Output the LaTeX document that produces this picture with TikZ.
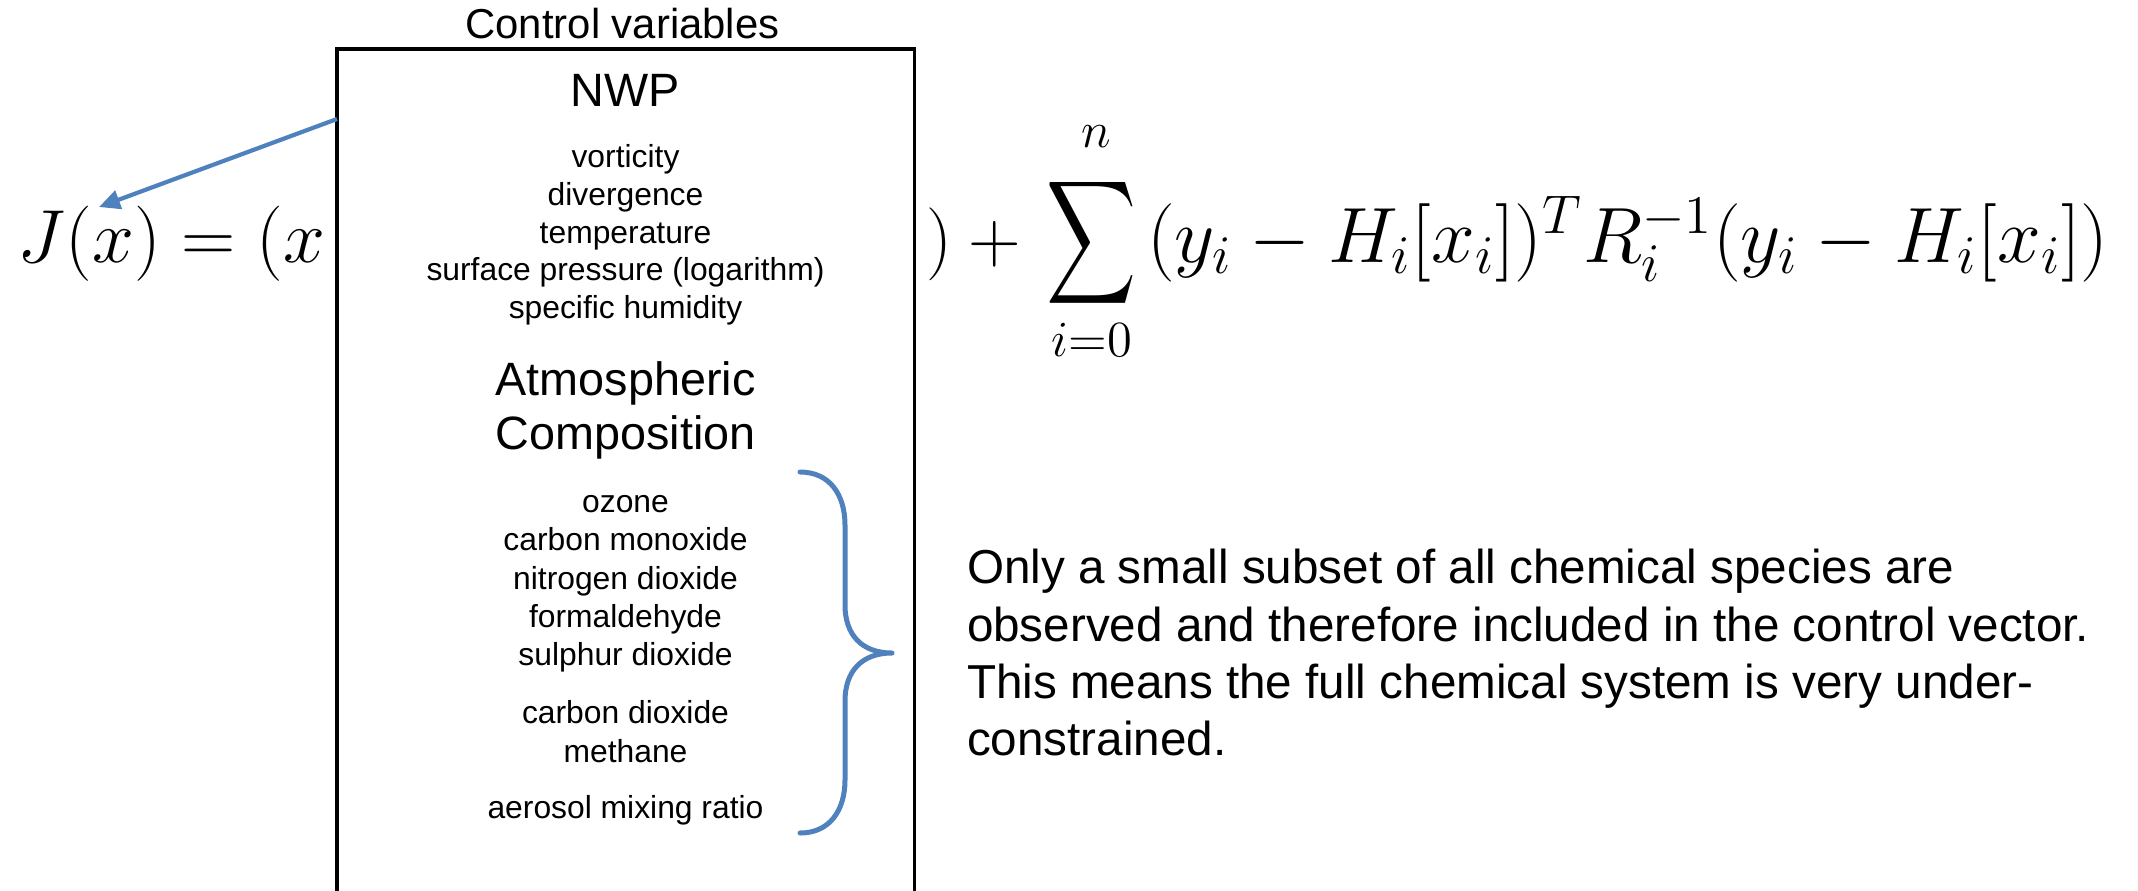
\documentclass[tikz,border=0pt]{standalone}
\usepackage[no-math]{fontspec}
\setmainfont{Liberation Sans}
\usetikzlibrary{arrows.meta}
\definecolor{offblue}{HTML}{4F81BD}
\tikzset{
  lbl/.style={inner sep=0pt, outer sep=0pt, anchor=base},
  titletxt/.style={lbl, font=\fontsize{11.9}{14}\selectfont},
  headtxt/.style={lbl, font=\fontsize{13.3}{16}\selectfont},
  itemtxt/.style={lbl, font=\fontsize{9.05}{11}\selectfont},
  paratxt/.style={lbl, anchor=base west, font=\fontsize{13.54}{16}\selectfont},
  eqtxt/.style={lbl, font=\fontsize{20.5}{24}\selectfont},
  limtxt/.style={lbl, font=\fontsize{14}{16}\selectfont},
  cvbox/.style={draw=black, line width=0.035cm, inner sep=0pt, outer sep=0pt},
  conn/.style={draw=offblue, line width=0.042cm, -{Triangle[length=0.21cm, width=0.19cm]}},
  bracepath/.style={draw=offblue, line width=0.05cm, line cap=round, line join=round},
}
\begin{document}
\begin{tikzpicture}[x=0.01cm, y=-0.01cm]
\useasboundingbox (0,0) rectangle (2138,890);

% control variables box (open at the bottom, runs past the page)
\node[cvbox, anchor=north west, minimum width=5.77cm, minimum height=9.5cm] (cv) at (337,49) {};
\node[titletxt] (title) at (622.5,38) {Control variables};

% NWP
\node[headtxt] (nwp) at (625.5,106) {NWP};
\foreach \t [count=\k from 0] in {vorticity, divergence, temperature, surface pressure (logarithm), specific humidity}
  \node[itemtxt] (nwp\k) at (625.5,167.5+37.75*\k) {\t};

% Atmospheric composition
\node[headtxt] (atm1) at (625.5,395) {Atmospheric};
\node[headtxt] (atm2) at (625.5,449) {Composition};
\foreach \t/\yy [count=\k] in {ozone/512, carbon monoxide/550.5, nitrogen dioxide/589, formaldehyde/627, sulphur dioxide/665.5, carbon dioxide/723, methane/762, aerosol mixing ratio/818.5}
  \node[itemtxt] (chem\k) at (625.5,\yy) {\t};

% brace
\draw[bracepath] (800,472) .. controls (830,472) and (845,495) .. (845,525)
  -- (845,605) .. controls (845,635) and (862,653) .. (892,653)
  .. controls (862,653) and (845,671) .. (845,701)
  -- (845,780) .. controls (845,810) and (830,833) .. (800,833);

% paragraph
\node[paratxt] (p1) at (967,583) {Only a small subset of all chemical species are};
\node[paratxt] (p2) at (967,641) {observed and therefore included in the control vector.};
\node[paratxt] (p3) at (967,698) {This means the full chemical system is very under-};
\node[paratxt] (p4) at (967,755) {constrained.};

% equation
\node[eqtxt, anchor=base west] (eqL) at (18,262) {\resizebox{3.07cm}{!}{$J(x) = (x$}};
\node[eqtxt, anchor=base west] (eqR1) at (926,262) {$) + {}$};
\node[eqtxt, anchor=center] (sum) at (1092,243) {\resizebox*{0.9cm}{1.38cm}{$\displaystyle\sum$}};
\node[limtxt] (up) at (1096,147) {$n$};
\node[limtxt] (low) at (1092,356) {$i{=}0$};
\node[eqtxt, anchor=base west] (eqR2) at (1147,262) {\resizebox{9.61cm}{!}{$(y_i - H_i[x_i])^T R_i^{-1}(y_i - H_i[x_i])$}};

% arrow from box to x
\coordinate (astart) at (337,119);
\coordinate (atip) at (99,207);
\draw[conn] (astart) -- (atip);
\end{tikzpicture}
\end{document}
